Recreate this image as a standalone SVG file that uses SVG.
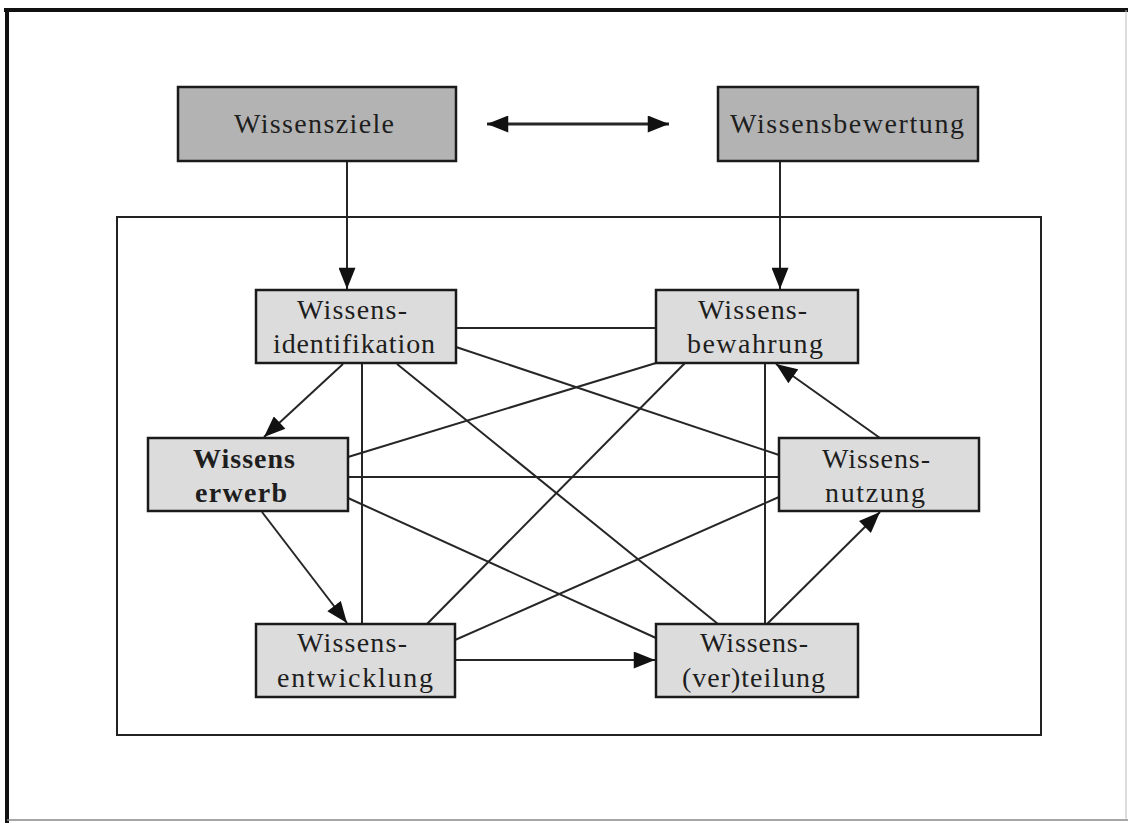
<svg xmlns="http://www.w3.org/2000/svg" width="1128" height="823" viewBox="0 0 1128 823">
<style>
.top{fill:#b3b3b3;stroke:#1a1a1a;stroke-width:2.5}
.box{fill:#dcdcdc;stroke:#1a1a1a;stroke-width:2.5}
.t{font-family:"Liberation Serif","Times New Roman",serif;font-size:28px;fill:#1e1e1e}
.b{font-weight:bold}
.c line{stroke:#262626;stroke-width:2}
</style>
<defs>
<marker id="ah" viewBox="0 0 20 16" refX="20" refY="8" markerWidth="22" markerHeight="17" orient="auto-start-reverse" markerUnits="userSpaceOnUse">
<path d="M0,0 L20,8 L0,16 z" fill="#111"/>
</marker>
</defs>
<rect width="1128" height="823" fill="#fff"/>
<g id="frame">
<line x1="4" y1="10" x2="1128" y2="10" stroke="#111" stroke-width="4"/>
<line x1="7" y1="8" x2="7" y2="823" stroke="#111" stroke-width="4"/>
<line x1="7" y1="820" x2="1128" y2="820" stroke="#888" stroke-width="1.5"/>
<line x1="1126" y1="10" x2="1126" y2="820" stroke="#bbb" stroke-width="1"/>
<rect x="117" y="217" width="924" height="518" fill="none" stroke="#222" stroke-width="2"/>
</g>
<g class="c" id="connectors">
<line x1="347" y1="162" x2="347" y2="289" marker-end="url(#ah)"/>
<line x1="780" y1="162" x2="780" y2="289" marker-end="url(#ah)"/>
<line x1="487" y1="124" x2="669" y2="124" style="stroke-width:3" marker-start="url(#ah)" marker-end="url(#ah)"/>
<line x1="456" y1="328" x2="656" y2="328"/>
<line x1="456" y1="347" x2="779" y2="455"/>
<line x1="397" y1="364" x2="718" y2="624"/>
<line x1="362" y1="364" x2="362" y2="624"/>
<line x1="343" y1="364" x2="264" y2="437" marker-end="url(#ah)"/>
<line x1="656" y1="363" x2="348" y2="457"/>
<line x1="685" y1="363" x2="427" y2="624"/>
<line x1="765" y1="363" x2="765" y2="624"/>
<line x1="880" y1="438" x2="776" y2="364" marker-end="url(#ah)"/>
<line x1="348" y1="477" x2="779" y2="477"/>
<line x1="348" y1="498" x2="656" y2="638"/>
<line x1="262" y1="512" x2="347" y2="623" marker-end="url(#ah)"/>
<line x1="779" y1="497" x2="455" y2="640"/>
<line x1="455" y1="660" x2="655" y2="660" marker-end="url(#ah)"/>
<line x1="767" y1="624" x2="880" y2="512" marker-end="url(#ah)"/>
</g>
<g id="wissensziele">
<rect class="top" x="178" y="87" width="278" height="74"/>
<text class="t" x="234" y="133" textLength="160" lengthAdjust="spacing">Wissensziele</text>
</g>
<g id="wissensbewertung">
<rect class="top" x="718" y="87" width="260" height="74"/>
<text class="t" x="730" y="133" textLength="234" lengthAdjust="spacing">Wissensbewertung</text>
</g>
<g id="identifikation">
<rect class="box" x="256" y="290" width="200" height="73"/>
<text class="t" x="297" y="319" textLength="110" lengthAdjust="spacing">Wissens-</text>
<text class="t" x="273" y="353" textLength="162" lengthAdjust="spacing">identifikation</text>
</g>
<g id="bewahrung">
<rect class="box" x="656" y="290" width="202" height="73"/>
<text class="t" x="698" y="319" textLength="109" lengthAdjust="spacing">Wissens-</text>
<text class="t" x="687" y="353" textLength="136" lengthAdjust="spacing">bewahrung</text>
</g>
<g id="erwerb">
<rect class="box" x="148" y="438" width="200" height="73"/>
<text class="t b" x="193" y="468" textLength="102" lengthAdjust="spacing">Wissens</text>
<text class="t b" x="195" y="502" textLength="92" lengthAdjust="spacing">erwerb</text>
</g>
<g id="nutzung">
<rect class="box" x="779" y="438" width="200" height="73"/>
<text class="t" x="822" y="468" textLength="108" lengthAdjust="spacing">Wissens-</text>
<text class="t" x="825" y="502" textLength="100" lengthAdjust="spacing">nutzung</text>
</g>
<g id="entwicklung">
<rect class="box" x="256" y="624" width="199" height="73"/>
<text class="t" x="297" y="652" textLength="110" lengthAdjust="spacing">Wissens-</text>
<text class="t" x="277" y="687" textLength="156" lengthAdjust="spacing">entwicklung</text>
</g>
<g id="verteilung">
<rect class="box" x="656" y="624" width="202" height="73"/>
<text class="t" x="700" y="652" textLength="108" lengthAdjust="spacing">Wissens-</text>
<text class="t" x="682" y="687" textLength="143" lengthAdjust="spacing">(ver)teilung</text>
</g>
</svg>
